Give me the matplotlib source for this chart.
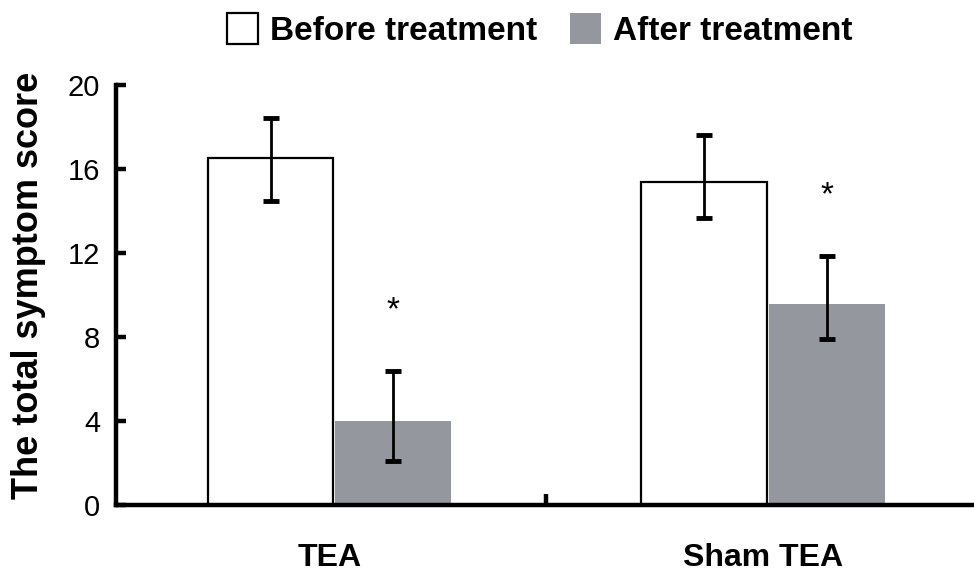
import matplotlib
matplotlib.use('Agg')
import matplotlib.pyplot as plt
from matplotlib.patches import Patch
import numpy as np

plt.rcParams['font.family'] = ['Liberation Sans', 'DejaVu Sans']

# Dados
groups = ['TEA', 'Sham TEA']
before_mean = [16.54, 15.4]
before_lo = [2.06, 1.72]
before_hi = [1.87, 2.22]
after_mean = [4.01, 9.56]
after_lo = [1.93, 1.64]
after_hi = [2.37, 2.31]
yticks = [0, 4, 8, 12, 16, 20]

gray = '#94979d'

fig = plt.figure(figsize=(9.74, 5.75), dpi=100)
ax = fig.add_axes([0.1186, 0.1217, 0.8814, 0.7304])

x = np.arange(len(groups))
xb = x - 0.136
xa = x + 0.147

# Barras
ax.bar(xb, before_mean, width=0.29, color='white', edgecolor='black', lw=1.6, zorder=2)
ax.bar(xa, after_mean, width=0.268, color=gray, edgecolor='none', zorder=2)

# Barras de erro
for xs, m, lo, hi in [(xb, before_mean, before_lo, before_hi),
                      (xa, after_mean, after_lo, after_hi)]:
    ax.errorbar(xs, m, yerr=[lo, hi], fmt='none', ecolor='black', elinewidth=2,
                capsize=6, capthick=3.5, zorder=3)

# Asteriscos (significância)
for xi, m, hi in zip(xa, after_mean, after_hi):
    ax.text(xi, m + hi + 2.87, '*', ha='center', va='center', fontsize=24)

# Eixos
ax.set_xlim(-0.494, 1.487)
ax.set_ylim(0, 20)
ax.set_yticks(yticks)
ax.set_yticklabels([str(t) for t in yticks], fontsize=21)
ax.set_xticks(x)
ax.set_xticklabels(groups, fontsize=23, fontweight='bold')
ax.set_xticks([0.5], minor=True)
ax.tick_params(axis='x', which='major', length=0, pad=27.5)
ax.tick_params(axis='x', which='minor', direction='in', length=8, width=3.2)
ax.tick_params(axis='y', direction='in', length=7, width=3.2, pad=11)
for s in ['top', 'right']:
    ax.spines[s].set_visible(False)
for s in ['left', 'bottom']:
    ax.spines[s].set_linewidth(3.2)
ax.set_ylabel('The total symptom score', fontsize=26, fontweight='bold')
ax.yaxis.set_label_coords(-0.081, 0.524)

# Legenda
handles = [Patch(facecolor='white', edgecolor='black', lw=1.6, label='Before treatment'),
           Patch(facecolor=gray, edgecolor='none', label='After treatment')]
fig.legend(handles=handles, loc='center', bbox_to_anchor=(0.554, 0.948), ncol=2,
           frameon=False, prop={'size': 24, 'weight': 'bold'},
           handlelength=0.93, handleheight=1.05, handletextpad=0.36, columnspacing=1.0)

plt.savefig('out.png', dpi=100)
